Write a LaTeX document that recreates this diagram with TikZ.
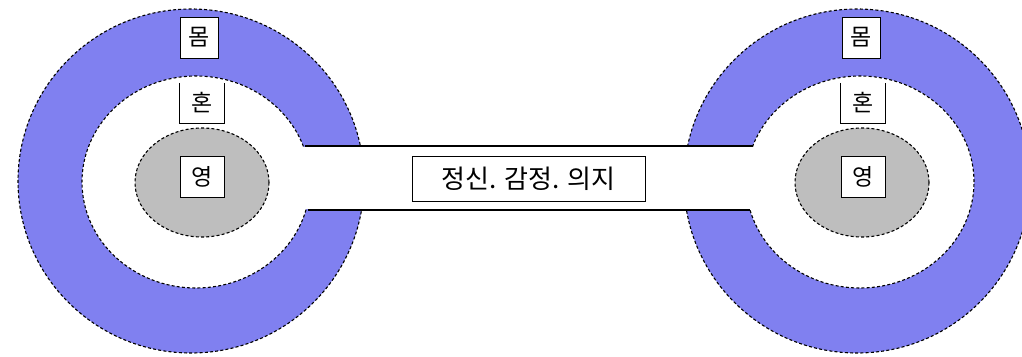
\documentclass[tikz,border=0pt]{standalone}
\usepackage{fontspec}
\setmainfont{Noto Sans CJK KR}
\definecolor{ringblue}{RGB}{128,128,240}
\definecolor{soulgray}{RGB}{190,190,190}
\begin{document}
\begin{tikzpicture}[x=1pt,y=-1pt,
  dashline/.style={draw=black,line width=1.1pt,dash pattern=on 3pt off 2.2pt},
  outerring/.style={dashline,fill=ringblue},
  innerhole/.style={dashline,fill=white},
  soulcore/.style={dashline,fill=soulgray},
  labelbox/.style={draw=black,line width=1pt,fill=white,inner sep=0pt,font=\fontsize{23}{24}\selectfont},
  openbox/.style={inner sep=0pt,font=\fontsize{23}{24}\selectfont},
  barline/.style={draw=black,line width=1.3pt}]
\useasboundingbox (0,0) rectangle (1022,356);
\clip (0,0) rectangle (1022,356);
% rings
\path[outerring] (191,181) ellipse [x radius=173pt, y radius=172pt];
\path[outerring] (857,181) ellipse [x radius=173pt, y radius=172pt];
\path[innerhole] (196,182) ellipse [x radius=114pt, y radius=106pt];
\path[innerhole] (860,182) ellipse [x radius=114pt, y radius=106pt];
% connecting bar
\fill[white] (290,147) rectangle (772,209);
\coordinate (btl) at (305,146);
\coordinate (btr) at (753,146);
\coordinate (bbl) at (308,210);
\coordinate (bbr) at (750,210);
\draw[barline] (btl) -- (btr);
\draw[barline] (bbl) -- (bbr);
% cores
\path[soulcore] (202,182.5) ellipse [x radius=67pt, y radius=54.5pt];
\path[soulcore] (862,182.5) ellipse [x radius=67pt, y radius=54.5pt];
% labels left
\node[labelbox,minimum width=38pt,minimum height=41pt] (momL) at (199,37.5) {몸};
\node[openbox,minimum width=44pt,minimum height=40pt,fill=white] (honL) at (202,103) {혼};
\draw[line width=1pt] (honL.north west) -- (honL.south west) -- (honL.south east) -- (honL.north east);
\node[labelbox,minimum width=44pt,minimum height=41pt] (yeongL) at (202,176.5) {영};
% labels right
\node[labelbox,minimum width=38pt,minimum height=41pt] (momR) at (861,37.5) {몸};
\node[openbox,minimum width=44pt,minimum height=40pt,fill=white] (honR) at (863,103) {혼};
\draw[line width=1pt] (honR.north west) -- (honR.south west) -- (honR.south east) -- (honR.north east);
\node[labelbox,minimum width=44pt,minimum height=41pt] (yeongR) at (863,176.5) {영};
% middle label
\node[labelbox,minimum width=233pt,minimum height=45pt,font=\fontsize{26}{27}\selectfont] (mind) at (528.5,178.5) {정신. 감정. 의지};
\end{tikzpicture}
\end{document}
